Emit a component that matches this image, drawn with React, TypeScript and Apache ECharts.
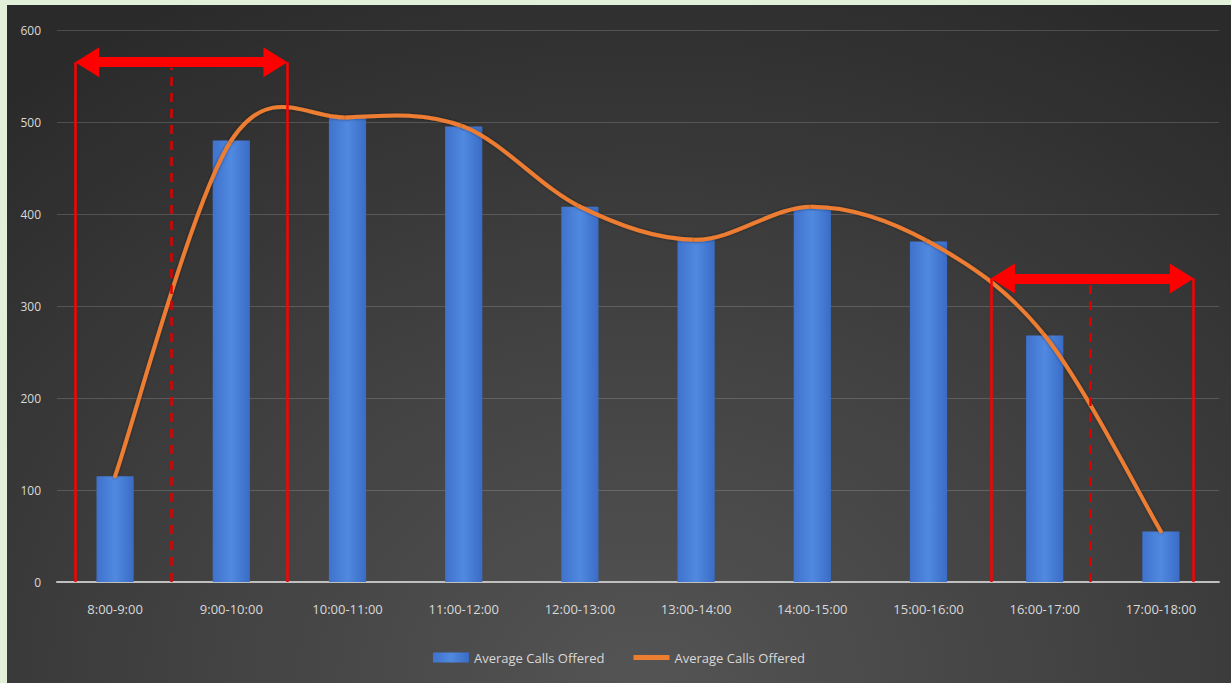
import React, { useEffect, useRef } from "react";
import * as echarts from "echarts";

const categories = [
  "8:00-9:00", "9:00-10:00", "10:00-11:00", "11:00-12:00", "12:00-13:00",
  "13:00-14:00", "14:00-15:00", "15:00-16:00", "16:00-17:00", "17:00-18:00",
];
const barValues = [115, 480, 505, 495, 408, 372, 408, 370, 268, 55];
const lineValues = [115, 480, 505, 495, 408, 372, 408, 370, 268, 55];
const seriesName = "Average Calls Offered";

// annotation positions in category-index units (hidden value axis) and y values
const leftBracket = { from: -0.34, mid: 0.48, to: 1.48, y: 565 };
const rightBracket = { from: 7.54, mid: 8.39, to: 9.28, y: 330 };

const FONT = "'Open Sans', sans-serif";
const RED = "#ff0000";
const ORANGE = "#ed7d31";

function bracketMarks(b: { from: number; mid: number; to: number; y: number }) {
  const solid = { color: RED, width: 2.5, type: "solid" as const };
  const inset = 0.1;
  return [
    [
      { coord: [b.from + inset, b.y], symbol: "triangle", symbolSize: [30, 24], lineStyle: { color: RED, width: 10, type: "solid" } },
      { coord: [b.to - inset, b.y], symbol: "triangle", symbolSize: [30, 24] },
    ],
    [
      { coord: [b.from, 0], symbol: "none", lineStyle: solid },
      { coord: [b.from, b.y], symbol: "none" },
    ],
    [
      { coord: [b.to, 0], symbol: "none", lineStyle: solid },
      { coord: [b.to, b.y], symbol: "none" },
    ],
    [
      { coord: [b.mid, 0], symbol: "none", lineStyle: { color: "#e00000", width: 2.5, type: [9, 7] } },
      { coord: [b.mid, b.y - 6], symbol: "none" },
    ],
  ];
}

// Catmull-Rom style smooth curve (like a spreadsheet smoothed line), drawn segment by segment
function renderCurveSegment(params: any, api: any) {
  const i = params.dataIndex;
  const n = lineValues.length;
  if (i >= n - 1) return { type: "group", children: [] };
  const pt = (k: number) => api.coord([Math.max(0, Math.min(n - 1, k)), lineValues[Math.max(0, Math.min(n - 1, k))]]);
  const p0 = pt(i - 1);
  const p1 = pt(i);
  const p2 = pt(i + 1);
  const p3 = pt(i + 2);
  const cp1 = [p1[0] + (p2[0] - p0[0]) / 6, p1[1] + (p2[1] - p0[1]) / 6];
  const cp2 = [p2[0] - (p3[0] - p1[0]) / 6, p2[1] - (p3[1] - p1[1]) / 6];
  return {
    type: "bezierCurve",
    shape: {
      x1: p1[0], y1: p1[1], x2: p2[0], y2: p2[1],
      cpx1: cp1[0], cpy1: cp1[1], cpx2: cp2[0], cpy2: cp2[1],
    },
    style: {
      stroke: ORANGE,
      lineWidth: 4,
      fill: "none",
      lineCap: "round",
      shadowColor: "rgba(0,0,0,0.45)",
      shadowBlur: 3,
    },
  };
}

export default function App() {
  const ref = useRef<HTMLDivElement>(null);
  useEffect(() => {
    document.body.style.margin = "0";
    const chart = echarts.init(ref.current!, null, { renderer: "svg" });
    chart.setOption({
      animation: false,
      backgroundColor: "transparent",
      textStyle: { fontFamily: FONT },
      grid: { left: 50, right: 12, top: 25, bottom: 101, containLabel: false },
      legend: {
        bottom: 14,
        left: "center",
        itemWidth: 36,
        itemHeight: 10,
        itemGap: 29,
        formatter: (n: string) => n.trim(),
        textStyle: { color: "#d9d9d9", fontSize: 13, fontFamily: FONT },
        data: [
          { name: seriesName, icon: "rect" },
          { name: seriesName + " ", icon: "path://M0,0H36V5H0Z" },
        ],
      },
      xAxis: [
        {
          type: "category",
          data: categories,
          axisLine: { lineStyle: { color: "#bfbfbf", width: 2 } },
          axisTick: { show: false },
          axisLabel: { color: "#d9d9d9", fontSize: 13, margin: 20, fontFamily: FONT },
        },
        { type: "value", min: -0.5, max: 9.5, show: false },
      ],
      yAxis: {
        type: "value",
        min: 0,
        max: 600,
        interval: 100,
        axisLine: { show: false },
        axisTick: { show: false },
        axisLabel: { color: "#d9d9d9", fontSize: 12, margin: 16, fontFamily: FONT },
        splitLine: { lineStyle: { color: "rgba(255,255,255,0.16)", width: 1 } },
      },
      series: [
        {
          name: seriesName,
          type: "bar",
          data: barValues,
          barWidth: "32%",
          itemStyle: {
            color: new echarts.graphic.LinearGradient(0, 0, 1, 0, [
              { offset: 0, color: "#3f72cc" },
              { offset: 0.5, color: "#5089e0" },
              { offset: 1, color: "#3a6cc6" },
            ]),
          },
        },
        {
          name: seriesName + " ",
          type: "custom",
          renderItem: renderCurveSegment,
          data: lineValues.map((v, i) => [i, v]),
          itemStyle: { color: ORANGE },
          silent: true,
          z: 3,
        },
        {
          type: "line",
          xAxisIndex: 1,
          data: [],
          silent: true,
          z: 4,
          markLine: {
            silent: true,
            animation: false,
            label: { show: false },
            lineStyle: { color: RED },
            itemStyle: { color: RED },
            data: [...bracketMarks(leftBracket), ...bracketMarks(rightBracket)],
          },
        },
      ],
    });
    return () => chart.dispose();
  }, []);

  return (
    <div
      style={{
        width: 1231,
        height: 683,
        background: "#e2efd9",
        paddingLeft: 7,
        paddingTop: 5,
        boxSizing: "border-box",
      }}
    >
      <div
        ref={ref}
        style={{
          width: 1224,
          height: 678,
          background:
            "radial-gradient(ellipse 80% 115% at 52% 100%, #545454 0%, #404040 50%, #2a2a2a 100%)",
        }}
      />
    </div>
  );
}
